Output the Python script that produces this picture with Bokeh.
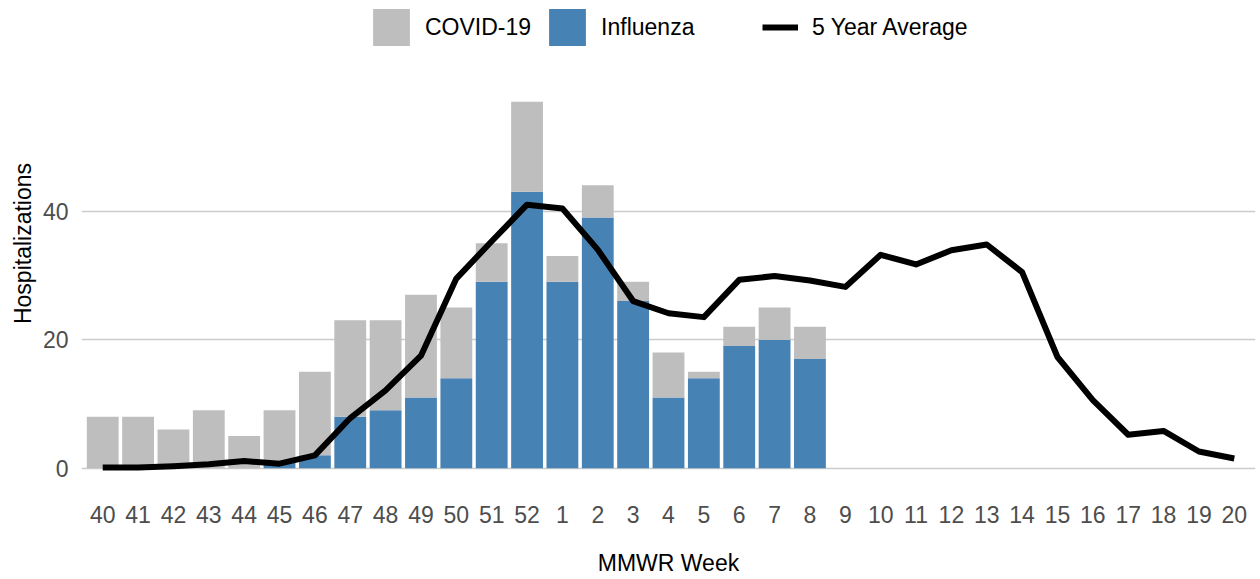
from bokeh.plotting import figure
from bokeh.models import FactorRange, Range1d, ColumnDataSource, Legend, LegendItem, FixedTicker
from bokeh.embed import file_html
from bokeh.resources import INLINE

# ---- data ----
weeks = ["40", "41", "42", "43", "44", "45", "46", "47", "48", "49", "50", "51", "52",
         "1", "2", "3", "4", "5", "6", "7", "8", "9", "10", "11", "12", "13", "14",
         "15", "16", "17", "18", "19", "20"]
bar_weeks = weeks[:21]
influenza = [0, 0, 0, 0, 0, 1, 2, 8, 9, 11, 14, 29, 43, 29, 39, 26, 11, 14, 19, 20, 17]
covid = [8, 8, 6, 9, 5, 8, 13, 15, 14, 16, 11, 6, 14, 4, 5, 3, 7, 1, 3, 5, 5]
five_year_avg = [0.1, 0.1, 0.3, 0.6, 1.1, 0.7, 2.0, 7.8, 12.1, 17.5, 29.5, 35.3, 41.0,
                 40.4, 34.0, 26.0, 24.1, 23.5, 29.3, 29.9, 29.2, 28.2, 33.2, 31.7, 33.9,
                 34.8, 30.5, 17.3, 10.6, 5.2, 5.8, 2.6, 1.5]
y_ticks = [0, 20, 40]

GRAY = "#BEBEBE"
BLUE = "#4682B4"
FONT = "Liberation Sans"
FS = "23px"

bar_src = ColumnDataSource(dict(week=bar_weeks, Influenza=influenza, COVID=covid))
line_src = ColumnDataSource(dict(week=weeks, avg=five_year_avg))

# frame spans the full top of the canvas so the legend can sit inside it;
# the upper y limit leaves the empty band for the legend
p = figure(width=1260, height=579, output_backend="svg", toolbar_location=None,
           x_range=FactorRange(*weeks, range_padding=0.1, range_padding_units="absolute"),
           y_range=Range1d(-2.85, 72.76),
           min_border_left=81, min_border_right=5, min_border_top=0, min_border_bottom=93)

rs = p.vbar_stack(["Influenza", "COVID"], x="week", width=0.9, color=[BLUE, GRAY],
                  line_color=None, source=bar_src)
r_line = p.line(x="week", y="avg", source=line_src, line_color="black", line_width=6,
                line_join="round")

p.outline_line_color = None
p.xgrid.grid_line_color = None
p.ygrid.grid_line_color = "#CCCCCC"
p.ygrid.grid_line_width = 1.5
p.yaxis.ticker = FixedTicker(ticks=y_ticks)

for ax in (p.xaxis[0], p.yaxis[0]):
    ax.axis_line_color = None
    ax.major_tick_line_color = None
    ax.minor_tick_line_color = None
    ax.major_label_text_font = FONT
    ax.major_label_text_font_size = FS
    ax.major_label_text_color = "#4D4D4D"
    ax.axis_label_text_font = FONT
    ax.axis_label_text_font_size = FS
    ax.axis_label_text_font_style = "normal"
    ax.axis_label_text_color = "black"
    ax.major_tick_out = 0
    ax.major_tick_in = 0

p.xaxis.axis_label = "MMWR Week"
p.yaxis.axis_label = "Hospitalizations"
p.xaxis.major_label_standoff = 19
p.xaxis.axis_label_standoff = 24
p.yaxis.major_label_standoff = 13
p.yaxis.axis_label_standoff = 4

leg1 = Legend(items=[LegendItem(label="COVID-19", renderers=[rs[1]]),
                     LegendItem(label="Influenza", renderers=[rs[0]])],
              location=(287, 436), orientation="horizontal",
              glyph_width=46, glyph_height=46, label_standoff=11, spacing=13)
leg2 = Legend(items=[LegendItem(label="5 Year Average", renderers=[r_line])],
              location=(681, 436), orientation="horizontal",
              glyph_width=36, glyph_height=46, label_standoff=14, spacing=13)
for lg in (leg1, leg2):
    lg.padding = 0
    lg.margin = 0
    lg.border_line_color = None
    lg.background_fill_alpha = 0
    lg.label_text_font = FONT
    lg.label_text_font_size = FS
    lg.label_text_color = "black"
    p.add_layout(lg, "center")

open("out.html", "w").write(file_html(p, INLINE))
